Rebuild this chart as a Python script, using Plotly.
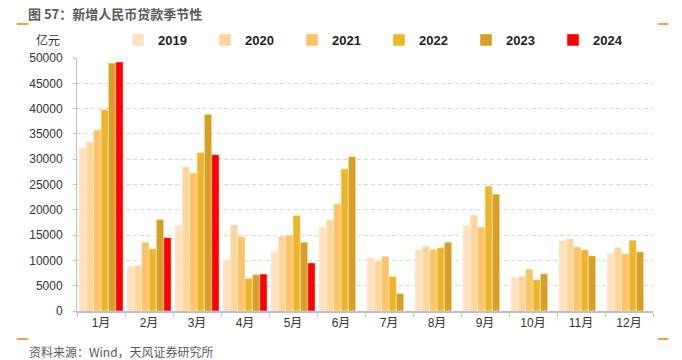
import plotly.graph_objects as go

months = ["1月", "2月", "3月", "4月", "5月", "6月", "7月", "8月", "9月", "10月", "11月", "12月"]
years = ["2019", "2020", "2021", "2022", "2023", "2024"]

v2019 = [32300, 8858, 16900, 10200, 11800, 16600, 10600, 12100, 16900, 6613, 13900, 11400]
v2020 = [33400, 9057, 28500, 17000, 14800, 18100, 9927, 12800, 19000, 6898, 14300, 12600]
v2021 = [35800, 13600, 27300, 14700, 15000, 21200, 10800, 12200, 16600, 8262, 12700, 11300]
v2022 = [39800, 12300, 31300, 6454, 18900, 28100, 6790, 12500, 24700, 6152, 12100, 14000]
v2023 = [49000, 18100, 38900, 7188, 13600, 30500, 3459, 13600, 23100, 7384, 10900, 11700]
v2024 = [49200, 14500, 30900, 7300, 9500, None, None, None, None, None, None, None]

series = [v2019, v2020, v2021, v2022, v2023, v2024]
colors = ["#FDE0BD", "#FDD59C", "#FAC466", "#EFB52A", "#D5A024", "#FF0000"]

yticks = list(range(0, 50001, 5000))

FONT = "Liberation Sans, Noto Sans CJK SC, sans-serif"

fig = go.Figure()
for name, vals, col in zip(years, series, colors):
    fig.add_trace(go.Bar(
        x=months, y=vals, name=name,
        marker=dict(color=col, line=dict(color="rgba(255,255,255,0.7)", width=0.6)),
    ))

W, H = 682, 360
L, R, T, B = 77, 29, 58, 49
pw, ph = W - L - R, H - T - B

def px(x):
    return (x - L) / pw

def py(y):
    return (H - B - y) / ph

fig.update_layout(
    width=W, height=H,
    margin=dict(l=L, r=R, t=T, b=B),
    paper_bgcolor="white", plot_bgcolor="white",
    barmode="group", bargap=0.08, bargroupgap=0,
    font=dict(family=FONT, size=12, color="#333333"),
    showlegend=True,
    legend=dict(
        orientation="h", x=px(118), xanchor="left", y=py(40), yanchor="middle",
        font=dict(family=FONT, size=13, color="#222222", weight="bold"),
        entrywidth=42, entrywidthmode="pixels",
        bgcolor="rgba(0,0,0,0)", traceorder="normal",
    ),
    title=dict(
        text="图 57：新增人民币贷款季节性",
        x=28 / W, xref="container", xanchor="left",
        y=1 - 14 / H, yref="container", yanchor="middle",
        font=dict(family="Noto Sans CJK SC, sans-serif", size=13, color="#595959", weight="bold"),
    ),
    xaxis=dict(
        type="category", showline=True, linecolor="#BFBFBF", linewidth=1.5,
        ticks="outside", tickson="boundaries", ticklen=4, tickcolor="#BFBFBF",
        showgrid=False, tickfont=dict(size=12, color="#333333"),
    ),
    yaxis=dict(
        range=[0, 50000], tickvals=yticks, ticktext=[str(t) for t in yticks],
        showline=True, linecolor="#BFBFBF", linewidth=1,
        ticks="outside", ticklen=3, tickcolor="#BFBFBF",
        showgrid=True, gridcolor="#D9D9D9", griddash="4px,3px", gridwidth=1,
        zeroline=False, tickfont=dict(size=12, color="#333333"),
        ticklabelstandoff=8,
    ),
    annotations=[
        dict(text="亿元", x=px(48), y=py(40), xref="paper", yref="paper",
             showarrow=False, xanchor="center", yanchor="middle",
             font=dict(family="Noto Sans CJK SC, sans-serif", size=12, color="#333333")),
        dict(text="资料来源：Wind，天风证券研究所", x=px(27), y=py(351), xref="paper", yref="paper",
             showarrow=False, xanchor="left", yanchor="middle",
             font=dict(family="Noto Sans CJK SC, sans-serif", size=12, color="#595959")),
    ],
    shapes=[
        dict(type="line", xref="paper", yref="paper", x0=px(17), x1=px(28), y0=py(24), y1=py(24),
             line=dict(color="#F08300", width=1.5)),
        dict(type="line", xref="paper", yref="paper", x0=px(658), x1=px(668), y0=py(24), y1=py(24),
             line=dict(color="#F08300", width=1.5)),
        dict(type="line", xref="paper", yref="paper", x0=px(17), x1=px(28), y0=py(339), y1=py(339),
             line=dict(color="#F08300", width=1.5)),
        dict(type="line", xref="paper", yref="paper", x0=px(658), x1=px(668), y0=py(339), y1=py(339),
             line=dict(color="#F08300", width=1.5)),
    ],
)

fig.write_html("out.html", config={"displayModeBar": False},
               post_script="document.body.style.margin='0';document.body.style.padding='0';")
